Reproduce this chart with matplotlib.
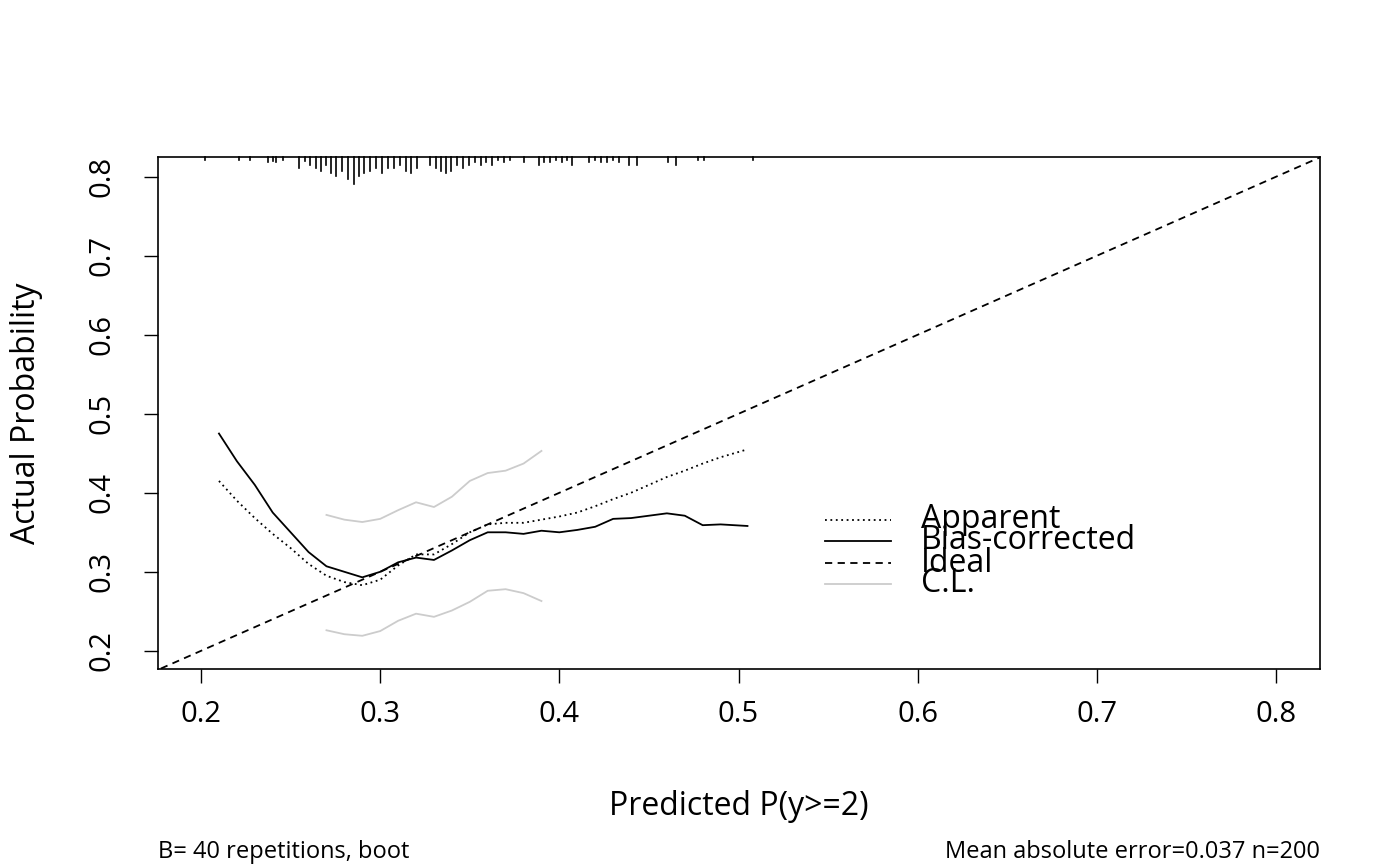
import matplotlib
matplotlib.use('Agg')
import matplotlib.pyplot as plt
import matplotlib.transforms as mtransforms

plt.rcParams['font.family'] = ['Open Sans', 'DejaVu Sans']

# calibration curves
pred = [0.21, 0.22, 0.23, 0.24, 0.25, 0.26, 0.27, 0.28, 0.29, 0.30, 0.31, 0.32, 0.33, 0.34, 0.35,
        0.36, 0.37, 0.38, 0.39, 0.40, 0.41, 0.42, 0.43, 0.44, 0.45, 0.46, 0.47, 0.48, 0.49, 0.505]
apparent = [0.415, 0.39, 0.368, 0.348, 0.33, 0.31, 0.295, 0.287, 0.283, 0.29, 0.308, 0.322, 0.322,
            0.335, 0.35, 0.36, 0.362, 0.362, 0.366, 0.37, 0.375, 0.383, 0.392, 0.40, 0.41, 0.42,
            0.428, 0.437, 0.445, 0.455]
bias_corr = [0.475, 0.44, 0.41, 0.375, 0.35, 0.325, 0.307, 0.30, 0.293, 0.30, 0.312, 0.318, 0.315,
             0.327, 0.34, 0.35, 0.35, 0.348, 0.352, 0.35, 0.353, 0.357, 0.367, 0.368, 0.371, 0.374,
             0.371, 0.359, 0.36, 0.358]
cl_x = [0.27, 0.28, 0.29, 0.30, 0.31, 0.32, 0.33, 0.34, 0.35, 0.36, 0.37, 0.38, 0.39]
cl_upper = [0.372, 0.366, 0.363, 0.367, 0.378, 0.388, 0.382, 0.395, 0.415, 0.425, 0.428, 0.437, 0.453]
cl_lower = [0.226, 0.221, 0.219, 0.225, 0.238, 0.247, 0.243, 0.251, 0.262, 0.276, 0.278, 0.273, 0.263]

# rug of predicted values (position, relative spike length)
rug_x = [0.2022, 0.2210, 0.2271, 0.2371, 0.2399, 0.2419, 0.2459, 0.2547, 0.2580, 0.2608, 0.2640,
         0.2668, 0.2697, 0.2727, 0.2756, 0.2789, 0.2820, 0.2851, 0.2882, 0.2910, 0.2943, 0.2977,
         0.3010, 0.3043, 0.3076, 0.3108, 0.3142, 0.3170, 0.3208, 0.3280, 0.3312, 0.3340, 0.3366,
         0.3395, 0.3428, 0.3461, 0.3494, 0.3528, 0.3561, 0.3593, 0.3626, 0.3659, 0.3693, 0.3726,
         0.3803, 0.3886, 0.3913, 0.3946, 0.3979, 0.4012, 0.4045, 0.4072, 0.4166, 0.4200, 0.4233,
         0.4265, 0.4298, 0.4332, 0.4387, 0.4431, 0.4607, 0.4651, 0.4772, 0.4806, 0.5081]
rug_n = [2, 2, 2, 4, 3, 4, 2, 8, 3, 6, 8, 10, 6, 12, 14, 10, 16, 20, 14, 12, 10, 8, 12, 8, 8, 6, 10,
         12, 8, 6, 8, 10, 12, 10, 6, 8, 6, 4, 6, 4, 6, 2, 4, 2, 4, 6, 4, 4, 2, 4, 2, 6, 4, 2, 4, 4,
         2, 4, 6, 6, 4, 6, 2, 2, 2]

fig = plt.figure(figsize=(14, 8.66), dpi=100)
ax = fig.add_axes([0.1129, 0.2275, 0.8300, 0.5912])

ax.plot([0, 1], [0, 1], color='black', linestyle=(0, (4, 3)), lw=1.3)
ax.plot(pred, apparent, color='black', linestyle=(0, (1, 2)), lw=1.3)
ax.plot(pred, bias_corr, color='black', lw=1.3)
ax.plot(cl_x, cl_upper, color='#cccccc', lw=1.3)
ax.plot(cl_x, cl_lower, color='#cccccc', lw=1.3)

trans = mtransforms.blended_transform_factory(ax.transData, ax.transAxes)
for xv, n in zip(rug_x, rug_n):
    ax.plot([xv, xv], [1, 1 - n * 1.35 / 512], color='black', lw=1.2, transform=trans, clip_on=False)

# legend drawn R-style
leg_y = [0.366, 0.339, 0.311, 0.285]
leg_lab = ['Apparent', 'Bias-corrected', 'Ideal', 'C.L.']
leg_ls = [(0, (1, 2)), '-', (0, (4, 3)), '-']
leg_col = ['black', 'black', 'black', '#cccccc']
for yv, lab, ls, c in zip(leg_y, leg_lab, leg_ls, leg_col):
    ax.plot([0.548, 0.585], [yv, yv], color=c, linestyle=ls, lw=1.3)
    ax.text(0.602, yv, lab, fontsize=23, va='center', ha='left')

ax.set_xlim(0.176, 0.8246)
ax.set_ylim(0.177, 0.825)
ax.set_xticks([0.2, 0.3, 0.4, 0.5, 0.6, 0.7, 0.8])
ax.set_yticks([0.2, 0.3, 0.4, 0.5, 0.6, 0.7, 0.8])
ax.tick_params(labelsize=21, length=10, width=1, pad=12)
ax.tick_params(axis='y', pad=20)
for lab in ax.get_yticklabels():
    lab.set_rotation(90)
    lab.set_va('center')
for s in ax.spines.values():
    s.set_linewidth(1.2)

ax.set_xlabel('Predicted P(y>=2)', fontsize=23, labelpad=44)
ax.set_ylabel('Actual Probability', fontsize=23, labelpad=32)
fig.text(0.1129, 0.009, 'B= 40 repetitions, boot', fontsize=17, ha='left')
fig.text(0.943, 0.009, 'Mean absolute error=0.037 n=200', fontsize=17, ha='right')

fig.savefig('out.png', dpi=100)
